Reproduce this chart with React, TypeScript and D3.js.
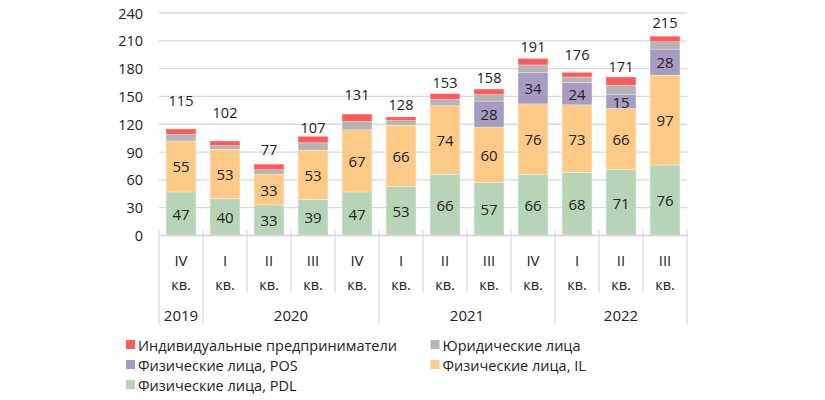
import React from "react";
import * as d3 from "d3";

const quarters = ["IV", "I", "II", "III", "IV", "I", "II", "III", "IV", "I", "II", "III"];
const years = [
  { label: "2019", from: 0, to: 1 },
  { label: "2020", from: 1, to: 5 },
  { label: "2021", from: 5, to: 9 },
  { label: "2022", from: 9, to: 12 },
];
const pdl = [47, 40, 33, 39, 47, 53, 66, 57, 66, 68, 71, 76];
const il = [55, 53, 33, 53, 67, 66, 74, 60, 76, 73, 66, 97];
const pos = [0, 0, 0, 0, 0, 0, 0, 28, 34, 24, 15, 28];
const legal = [7, 4, 5, 8, 9, 5, 7, 7, 8, 6, 10, 8];
const ip = [6, 5, 6, 7, 8, 4, 6, 6, 7, 5, 9, 6];
const totals = [115, 102, 77, 107, 131, 128, 153, 158, 191, 176, 171, 215];
const yTicks = [0, 30, 60, 90, 120, 150, 180, 210, 240];
// vertical gap (px) of each hand-placed total label above its bar
const totalLabelGap = [28, 28, 15, 9, 20, 12, 11, 12, 12, 18, 10, 14];

const series = [
  { key: "pdl", name: "Физические лица, PDL", values: pdl, color: "#B7D4B8", labeled: true },
  { key: "il", name: "Физические лица, IL", values: il, color: "#FFCA86", labeled: true },
  { key: "pos", name: "Физические лица, POS", values: pos, color: "#A69BC1", labeled: true },
  { key: "legal", name: "Юридические лица", values: legal, color: "#B4B4B4", labeled: false },
  { key: "ip", name: "Индивидуальные предприниматели", values: ip, color: "#FF5B5B", labeled: false },
];

const legendOrder = ["ip", "legal", "pos", "il", "pdl"];

const FONT = "'Open Sans', 'Noto Sans', sans-serif";
const TEXT = "#222";

export default function App() {
  const W = 825, H = 400;
  const left = 159, right = 687;
  const idx = quarters.map((_, i) => String(i));
  const x = d3.scaleBand<string>().domain(idx).range([left, right]).paddingInner(0.32).paddingOuter(0.16);
  const y = d3.scaleLinear().domain([0, 240]).range([235.5, 13]);

  const table = quarters.map((_, i) => {
    const row: any = { i: String(i) };
    series.forEach((s) => (row[s.key] = s.values[i]));
    return row;
  });
  const stacked = d3.stack<any>().keys(series.map((s) => s.key))(table);

  const step = x.step();
  const boundaries = d3.range(quarters.length + 1).map((k) => left + k * step);
  const yearEdges = new Set<number>();
  years.forEach((yr) => { yearEdges.add(yr.from); yearEdges.add(yr.to); });

  const axisY = y(0);
  const gridColor = "#D9D9D9";

  return (
    <svg width={W} height={H} style={{ position: "absolute", left: 0, top: 0, background: "#fff" }} fontFamily={FONT}>
      {/* grid */}
      {yTicks.map((t) => (
        <line key={"g" + t} x1={left} x2={right} y1={y(t)} y2={y(t)} stroke={gridColor} strokeWidth={1.3} />
      ))}
      {yTicks.map((t) => (
        <text key={"yt" + t} x={143} y={y(t)} textAnchor="end" dominantBaseline="central" fontSize={14.5} fill={TEXT}>
          {t}
        </text>
      ))}
      {/* bars */}
      {stacked.map((layer, li) => (
        <g key={layer.key} fill={series[li].color}>
          {layer.map((d, i) => {
            const h = y(d[0]) - y(d[1]);
            if (h <= 0) return null;
            return (
              <rect key={i} x={x(String(i))} y={y(d[1])} width={x.bandwidth()} height={h} stroke="#fff" strokeOpacity={0.5} strokeWidth={0.6} />
            );
          })}
        </g>
      ))}
      {/* segment labels */}
      {stacked.map((layer, li) =>
        series[li].labeled
          ? layer.map((d, i) => {
              const v = d[1] - d[0];
              if (v <= 0) return null;
              return (
                <text key={layer.key + "l" + i} x={(x(String(i)) as number) + x.bandwidth() / 2} y={(y(d[0]) + y(d[1])) / 2}
                  textAnchor="middle" dominantBaseline="central" fontSize={15} fill={TEXT}>
                  {v}
                </text>
              );
            })
          : null
      )}
      {/* totals */}
      {totals.map((t, i) => (
        <text key={"t" + i} x={(x(String(i)) as number) + x.bandwidth() / 2} y={y(t) - totalLabelGap[i]}
          textAnchor="middle" dominantBaseline="central" fontSize={14.5} fill={TEXT}>
          {t}
        </text>
      ))}
      {/* axis */}
      <line x1={left} x2={right} y1={axisY} y2={axisY} stroke={gridColor} strokeWidth={1.3} />
      {boundaries.map((bx, k) => (
        <line key={"b" + k} x1={bx} x2={bx} y1={axisY - 6} y2={yearEdges.has(k) ? 325 : 293} stroke={gridColor} strokeWidth={1.2} />
      ))}
      {quarters.map((q, i) => {
        const cx = (x(String(i)) as number) + x.bandwidth() / 2;
        return (
          <g key={"q" + i}>
            <text x={cx} y={260} textAnchor="middle" dominantBaseline="central" fontSize={15} fill={TEXT}>{q}</text>
            <text x={cx} y={284} textAnchor="middle" dominantBaseline="central" fontSize={14.5} fill={TEXT}>кв.</text>
          </g>
        );
      })}
      {years.map((yr) => (
        <text key={yr.label} x={(boundaries[yr.from] + boundaries[yr.to]) / 2} y={315} textAnchor="middle" dominantBaseline="central" fontSize={15} fill={TEXT}>
          {yr.label}
        </text>
      ))}
      {/* legend */}
      {legendOrder.map((k, j) => {
        const s = series.find((ss) => ss.key === k)!;
        const col = j % 2;
        const row = Math.floor(j / 2);
        const lx = col === 0 ? 126 : 430.5;
        const ly = 345 + row * 20;
        return (
          <g key={"lg" + k}>
            <rect x={lx} y={ly - 5} width={9} height={9} fill={s.color} />
            <text x={lx + 12} y={ly} dominantBaseline="central" fontSize={14.5} fill={TEXT}>{s.name}</text>
          </g>
        );
      })}
    </svg>
  );
}
